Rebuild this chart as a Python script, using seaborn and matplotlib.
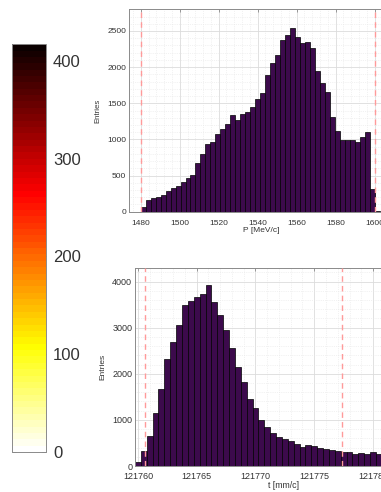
import numpy as np
import pandas as pd
import matplotlib
matplotlib.use("Agg")
import matplotlib.pyplot as plt
import seaborn as sns
from matplotlib.colors import ListedColormap, Normalize
from matplotlib.ticker import AutoMinorLocator
import matplotlib.cm as cm

# ---------------- data ----------------
# momentum histogram (47 bins between the cuts 1480 and 1600, plus one tiny overflow bin)
p_lo, p_hi, p_nbins = 1480.0, 1600.0, 47
p_counts = [60, 165, 190, 205, 235, 280, 330, 355, 410, 470, 505, 668, 800, 935, 967,
            1073, 1138, 1207, 1335, 1266, 1353, 1377, 1450, 1566, 1644, 1898, 2064, 2164, 2381, 2450, 2541,
            2417, 2339, 2348, 2265, 1947, 1782, 1657, 1304, 1119, 990, 995, 990, 963, 1027, 1105, 313,
            15]
p_cuts = [1480.0, 1600.0]
p_xticks = [1480, 1500, 1520, 1540, 1560, 1580, 1600]
p_yticks = [0, 500, 1000, 1500, 2000, 2500]

# time histogram (0.5 mm/c bins)
t_start, t_width = 121759.75, 0.5
t_counts = [93, 333, 658, 1157, 1664, 2315, 2691, 3060, 3494, 3573, 3667, 3732, 3921,
            3559, 3284, 2951, 2561, 2155, 1815, 1454, 1251, 1005, 839, 709, 622, 593, 550,
            485, 420, 463, 427, 398, 369, 354, 325, 297, 311, 268, 289, 253, 297, 260, 250]
t_cuts = [121760.6, 121777.4]
t_xticks = [121760, 121765, 121770, 121775, 121780]
t_yticks = [0, 1000, 2000, 3000, 4000]

cbar_min, cbar_max = 0, 417
cbar_ticks = [0, 100, 200, 300, 400]

# ---------------- style ----------------
sns.set_style("white")
plt.rcParams['font.family'] = ['Liberation Sans', 'DejaVu Sans']

bar_color = "#3c0a4c"
cut_color = "#ff9a9a"
spine_color = "#8a8a8a"
text_color = "#333333"

fig = plt.figure(figsize=(3.81, 4.92), dpi=100)

def style_axes(ax, fs, xpad):
    for s in ax.spines.values():
        s.set_color(spine_color)
        s.set_linewidth(0.7)
    ax.tick_params(axis='both', which='major', direction='in', top=True, right=True,
                   length=2.5, width=0.6, color=spine_color, labelsize=fs,
                   labelcolor=text_color, pad=2)
    ax.tick_params(axis='x', which='major', pad=xpad)
    ax.tick_params(axis='both', which='minor', length=0)
    ax.grid(True, which='major', color='#dcdcdc', linewidth=0.6, linestyle='-')
    ax.grid(True, which='minor', color='#e6e6e6', linewidth=0.5, linestyle=':')
    ax.set_axisbelow(True)

# ---------- top: momentum ----------
ax1 = fig.add_axes([0.3386, 0.5697, 0.696, 0.4114])
p_w = (p_hi - p_lo) / p_nbins
p_edges = [float(e) for e in p_lo + p_w * np.arange(len(p_counts) + 1)]
p_df = pd.DataFrame({"P": [(a + b) / 2 for a, b in zip(p_edges[:-1], p_edges[1:])], "n": p_counts})
sns.histplot(data=p_df, x="P", weights="n", bins=p_edges, ax=ax1,
             color=bar_color, alpha=1.0, edgecolor='black', linewidth=0.5)
for c in p_cuts:
    ax1.axvline(c, color=cut_color, linestyle=(0, (4, 3)), linewidth=1.0, zorder=5)
ax1.set_xlim(1474, 1610)
ax1.set_ylim(0, 2800)
ax1.set_xticks(p_xticks)
ax1.set_yticks(p_yticks)
ax1.xaxis.set_minor_locator(AutoMinorLocator(5))
ax1.yaxis.set_minor_locator(AutoMinorLocator(5))
style_axes(ax1, 6.0, 5.8)
ax1.set_xlabel("P [MeV/c]", fontsize=6.0, color=text_color, labelpad=0.5)
ax1.set_ylabel("Entries", fontsize=5.6, color=text_color, labelpad=4)

# ---------- bottom: time ----------
ax2 = fig.add_axes([0.3543, 0.0528, 0.779, 0.4031])
t_edges = [float(e) for e in t_start + t_width * np.arange(len(t_counts) + 1)]
t_df = pd.DataFrame({"t": [(a + b) / 2 for a, b in zip(t_edges[:-1], t_edges[1:])], "n": t_counts})
sns.histplot(data=t_df, x="t", weights="n", bins=t_edges, ax=ax2,
             color=bar_color, alpha=1.0, edgecolor='black', linewidth=0.5)
for c in t_cuts:
    ax2.axvline(c, color=cut_color, linestyle=(0, (4, 3)), linewidth=1.0, zorder=5)
ax2.set_xlim(t_start, 121785)
ax2.set_ylim(0, 4300)
ax2.set_xticks(t_xticks)
ax2.set_yticks(t_yticks)
ax2.ticklabel_format(useOffset=False, style='plain', axis='x')
ax2.xaxis.set_minor_locator(AutoMinorLocator(5))
ax2.yaxis.set_minor_locator(AutoMinorLocator(5))
style_axes(ax2, 6.5, 4.6)
ax2.set_xlabel("t [mm/c]", fontsize=6.3, color=text_color, labelpad=0)
ax2.set_ylabel("Entries", fontsize=6.0, color=text_color, labelpad=4)

# ---------- colorbar ----------
cax = fig.add_axes([0.0315, 0.0813, 0.0892, 0.829])
cmap = ListedColormap(plt.get_cmap('hot_r')(np.linspace(0, 1, 64)))
sm = cm.ScalarMappable(norm=Normalize(cbar_min, cbar_max), cmap=cmap)
cb = fig.colorbar(sm, cax=cax, orientation='vertical')
cb.set_ticks(cbar_ticks)
cb.outline.set_edgecolor(spine_color)
cb.outline.set_linewidth(0.7)
cax.tick_params(direction='in', left=True, right=True, length=3, width=0.6,
                color='#333333', labelsize=12, labelcolor=text_color, pad=5)

fig.savefig("out.png", dpi=100)
